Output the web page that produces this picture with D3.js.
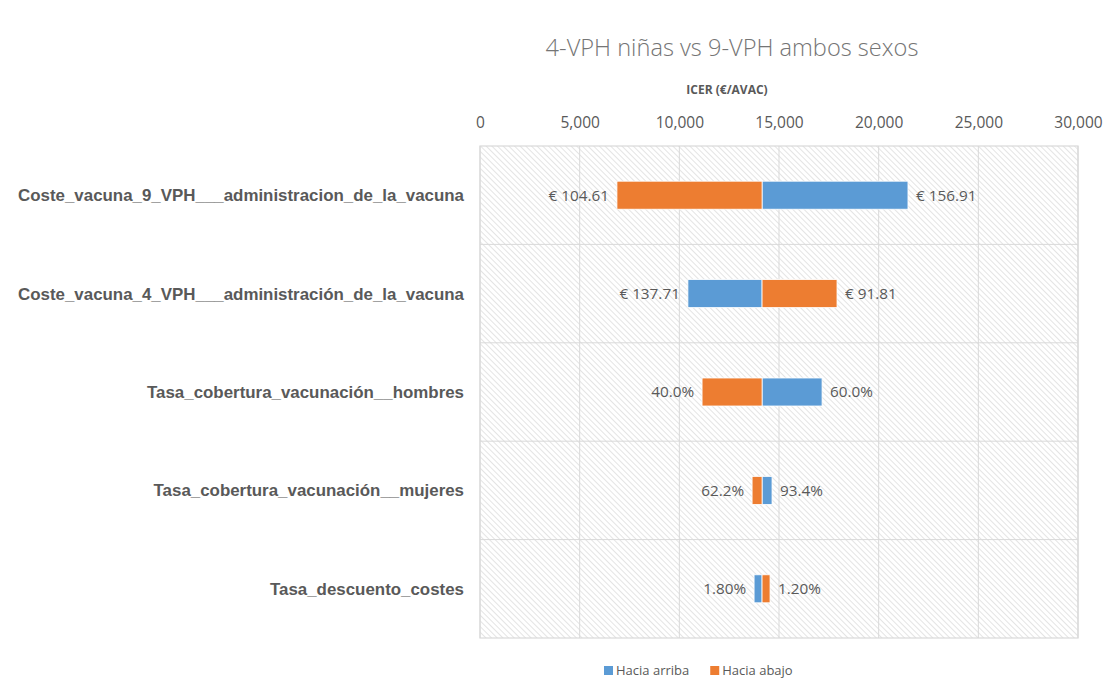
<!DOCTYPE html>
<html><head><meta charset="utf-8">
<script src="https://cdn.jsdelivr.net/npm/d3@7"></script>
<style>body{margin:0;background:#fff}svg{display:block}</style>
</head><body>
<svg id="c" width="1114" height="685"></svg>
<script>
const categories = [
  "Coste_vacuna_9_VPH___administracion_de_la_vacuna",
  "Coste_vacuna_4_VPH___administración_de_la_vacuna",
  "Tasa_cobertura_vacunación__hombres",
  "Tasa_cobertura_vacunación__mujeres",
  "Tasa_descuento_costes"
];
const baseValue = 14150;
const arribaValues = [21470, 10430, 17160, 14650, 13750];
const abajoValues = [6870, 17910, 11140, 13650, 14550];
const arribaLabels = ["€ 156.91", "€ 137.71", "60.0%", "93.4%", "1.80%"];
const abajoLabels = ["€ 104.61", "€ 91.81", "40.0%", "62.2%", "1.20%"];
const tickValues = [0, 5000, 10000, 15000, 20000, 25000, 30000];
const seriesNames = ["Hacia arriba", "Hacia abajo"];
const seriesColors = ["#5B9BD5", "#ED7D31"];

const svg = d3.select("#c");
const m = {left: 480, right: 1078, top: 146, bottom: 638};
const x = d3.scaleLinear().domain([0, 30000]).range([m.left, m.right]);
const y = d3.scaleBand().domain(categories).range([m.top, m.bottom]).paddingInner(0).paddingOuter(0);

const defs = svg.append("defs");
const pat = defs.append("pattern").attr("id","hatch").attr("patternUnits","userSpaceOnUse")
  .attr("width",4).attr("height",4).attr("patternTransform","rotate(-45)");
pat.append("rect").attr("width",4).attr("height",4).attr("fill","#fff");
pat.append("line").attr("x1",0).attr("y1",0).attr("x2",0).attr("y2",4)
  .attr("stroke","#d2d2d2").attr("stroke-width",1.2);

svg.append("rect").attr("x",m.left).attr("y",m.top).attr("width",m.right-m.left).attr("height",m.bottom-m.top)
  .attr("fill","url(#hatch)");

// vertical gridlines
svg.append("g").selectAll("line").data(tickValues).join("line")
  .attr("x1",d=>x(d)).attr("x2",d=>x(d)).attr("y1",m.top).attr("y2",m.bottom)
  .attr("stroke","#d9d9d9").attr("stroke-width",1);
// horizontal category separators
svg.append("g").selectAll("line").data(categories.slice(1)).join("line")
  .attr("x1",m.left).attr("x2",m.right).attr("y1",d=>y(d)).attr("y2",d=>y(d))
  .attr("stroke","#d9d9d9").attr("stroke-width",1);
svg.append("rect").attr("x",m.left).attr("y",m.top).attr("width",m.right-m.left).attr("height",m.bottom-m.top)
  .attr("fill","none").attr("stroke","#d9d9d9").attr("stroke-width",1.2);

// top axis
const axis = d3.axisTop(x).tickValues(tickValues).tickFormat(d3.format(",")).tickSize(0).tickPadding(0);
const ag = svg.append("g").attr("transform",`translate(0,${m.top-18})`).call(axis);
ag.select(".domain").remove();
ag.selectAll("text").attr("fill","#595959").attr("font-family","Open Sans, sans-serif").attr("font-size",15.5);

// titles
svg.append("text").attr("x",732).attr("y",56).attr("text-anchor","middle")
  .attr("font-family","Open Sans, sans-serif").attr("font-weight",300).attr("font-size",23.6).attr("fill","#757575")
  .text("4-VPH niñas vs 9-VPH ambos sexos");
svg.append("text").attr("x",727).attr("y",94).attr("text-anchor","middle")
  .attr("font-family","Open Sans, sans-serif").attr("font-weight",700).attr("font-size",12).attr("fill","#595959")
  .text("ICER (€/AVAC)");

// category labels
svg.append("g").selectAll("text").data(categories).join("text")
  .attr("x",464).attr("y",d=>y(d)+y.bandwidth()/2).attr("dy","0.35em").attr("text-anchor","end")
  .attr("font-family","Liberation Sans, Arial, sans-serif").attr("font-weight",700).attr("font-size",16.9).attr("fill","#595959")
  .text(d=>d);

const barH = 28;
const series = [
  {name: seriesNames[0], color: seriesColors[0], values: arribaValues, labels: arribaLabels},
  {name: seriesNames[1], color: seriesColors[1], values: abajoValues, labels: abajoLabels}
];
series.forEach(s => {
  const rows = categories.map((c,i)=>({c, v:s.values[i], l:s.labels[i]}));
  svg.append("g").selectAll("rect").data(rows).join("rect")
    .attr("x",d=>Math.min(x(d.v),x(baseValue))).attr("width",d=>Math.abs(x(d.v)-x(baseValue)))
    .attr("y",d=>y(d.c)+y.bandwidth()/2-barH/2).attr("height",barH)
    .attr("fill",s.color).attr("stroke","#fff").attr("stroke-width",0.8);
  svg.append("g").selectAll("text").data(rows).join("text")
    .attr("x",d=> d.v<baseValue ? x(d.v)-8 : x(d.v)+8)
    .attr("text-anchor",d=> d.v<baseValue ? "end" : "start")
    .attr("y",d=>y(d.c)+y.bandwidth()/2).attr("dy","0.35em")
    .attr("font-family","Open Sans, sans-serif").attr("font-size",15.3).attr("fill","#595959")
    .text(d=>d.l);
});

// legend
const lg = svg.append("g").attr("transform","translate(604,675)");
let lx = 0;
series.forEach(s => {
  const g = lg.append("g").attr("transform",`translate(${lx},0)`);
  g.append("rect").attr("x",0).attr("y",-9).attr("width",9).attr("height",9).attr("fill",s.color);
  const t = g.append("text").attr("x",12).attr("y",0).attr("font-family","Open Sans, sans-serif")
    .attr("font-size",13).attr("fill","#595959").text(s.name);
  lx += 12 + t.node().getComputedTextLength() + 21;
});
</script>
</body></html>
